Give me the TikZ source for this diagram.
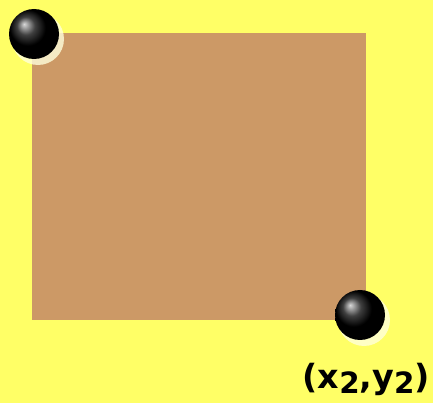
\documentclass[tikz,border=0pt]{standalone}
\usepackage{fontspec}
\setsansfont{DejaVu Sans}
\usetikzlibrary{calc}
\definecolor{bgyellow}{RGB}{255,255,102}
\definecolor{boxbrown}{RGB}{204,153,102}
\definecolor{glow}{RGB}{255,255,220}
\newcommand{\lowtwo}{{\fontsize{22}{24}\selectfont\raisebox{-4pt}{2}}}

\begin{document}
\begin{tikzpicture}[x=0.75pt,y=-0.75pt]
  \fill[bgyellow] (0,0) rectangle (433,403);
  \useasboundingbox (0,0) rectangle (433,403);
  \coordinate (P1) at (34,34);
  \coordinate (P2) at (360,315);
  \fill[boxbrown] (32,33) rectangle (366,320);
  \fill[glow,opacity=0.8] ($(P1)+(4,5)$) circle(26);
  \fill[glow,opacity=0.8] ($(P2)+(4,5)$) circle(26);
  \shade[ball color=black] (P1) circle(25);
  \shade[ball color=black] (P2) circle(25);
  \node[anchor=south east,inner sep=0pt,font=\sffamily\bfseries\fontsize{25}{28}\selectfont] (L2) at (430,396) {(x\lowtwo,y\lowtwo)};
\end{tikzpicture}
\end{document}
